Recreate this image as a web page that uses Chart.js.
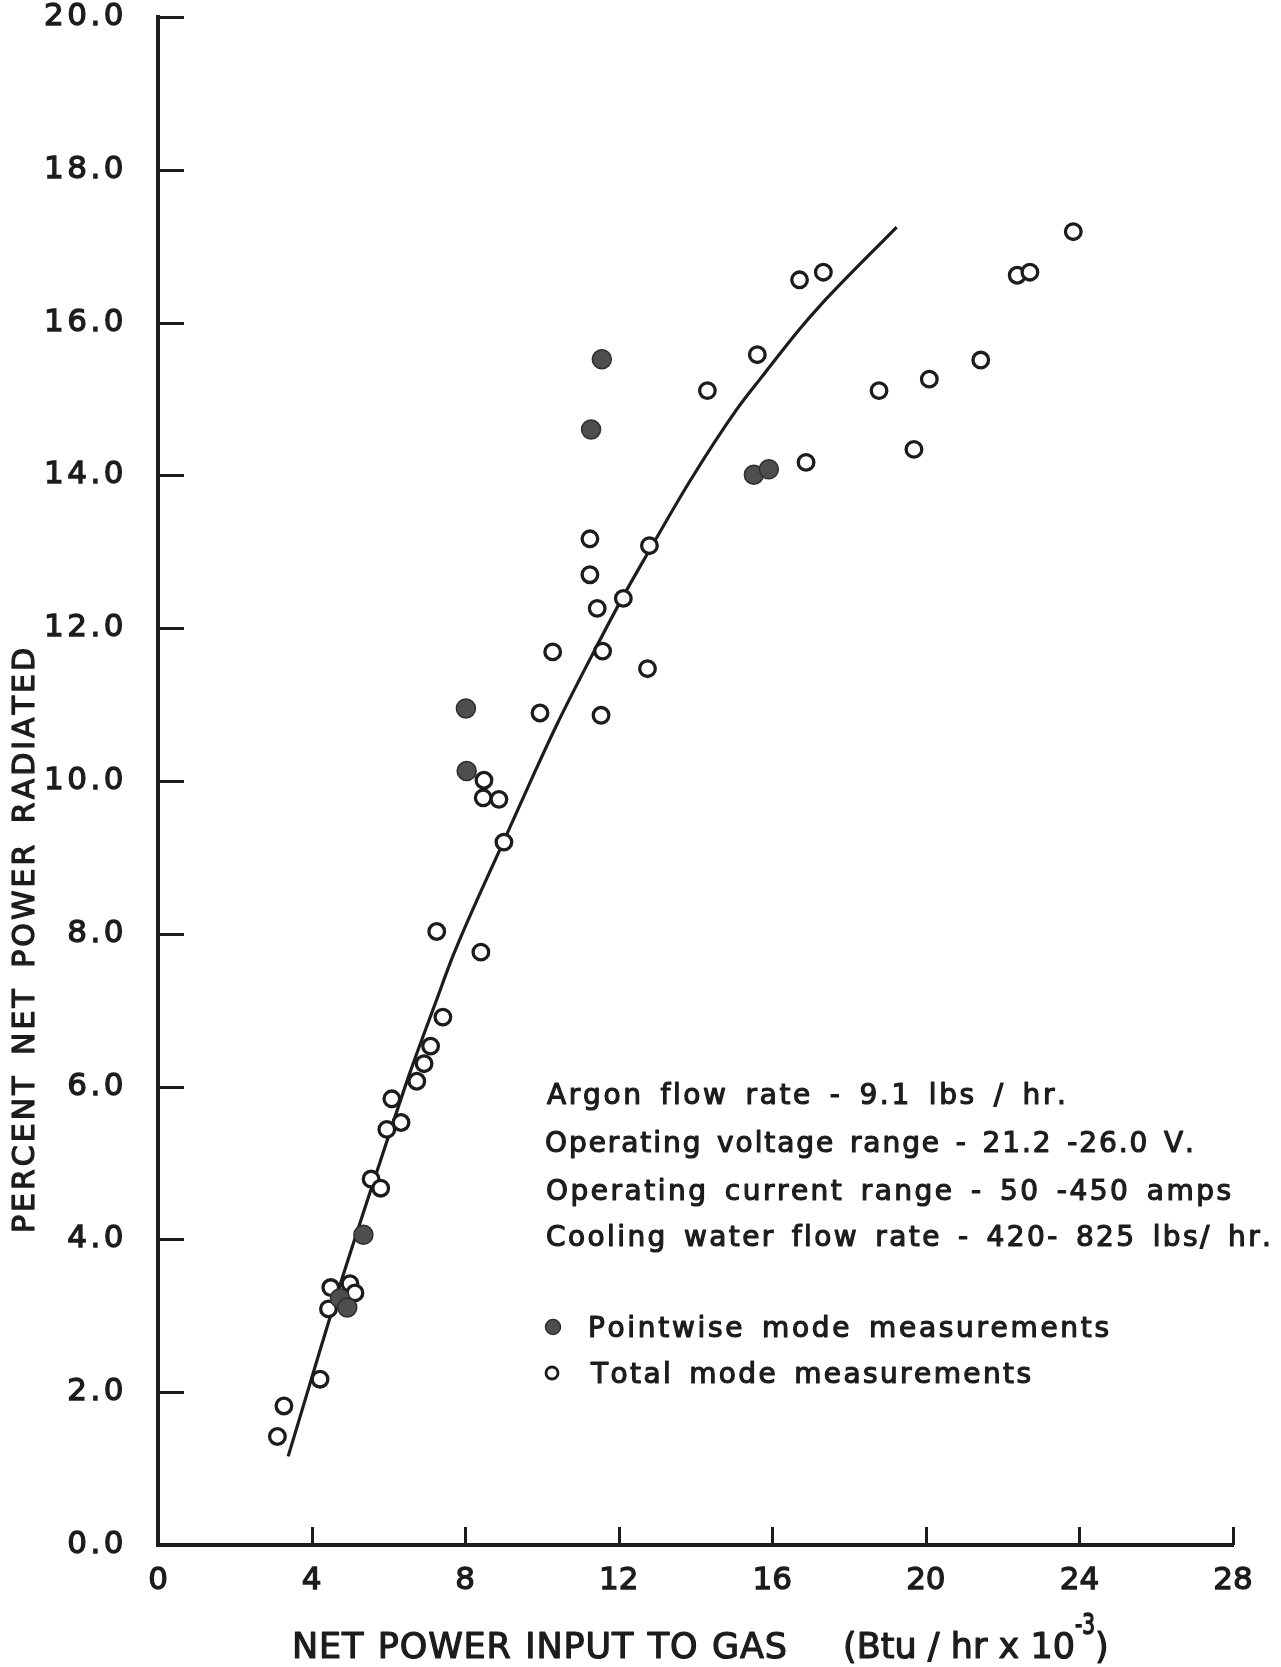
<!DOCTYPE html>
<html>
<head>
<meta charset="utf-8">
<title>Percent net power radiated vs net power input to gas</title>
<script src="https://cdn.jsdelivr.net/npm/chart.js@4.4.1/dist/chart.umd.min.js"></script>
<style>
  html, body { margin: 0; padding: 0; background: #ffffff; }
  #wrap { position: relative; width: 1281px; height: 1667px; }
  canvas { display: block; }
</style>
</head>
<body>
<div id="wrap"><canvas id="chart" width="1281" height="1667"></canvas></div>
<script>
// Axis tick values (x in Btu/hr x 10^-3, y in percent)
const xTickValues = [0, 4, 8, 12, 16, 20, 24, 28];
const yTickValues = [0, 2, 4, 6, 8, 10, 12, 14, 16, 18, 20];

// Pointwise mode measurements (filled symbols)
const pointwiseX = [4.74, 4.93, 5.35, 8.02, 8.04, 11.28, 11.56, 15.52, 15.91];
const pointwiseY = [3.23, 3.11, 4.06, 10.95, 10.13, 14.60, 15.52, 14.01, 14.08];

// Total mode measurements (open symbols)
const totalX = [3.11, 3.28, 4.22, 4.44, 4.50, 5.00, 5.13, 5.55, 5.80, 5.96,
                6.09, 6.33, 6.74, 6.93, 7.10, 7.42, 7.26, 8.41, 8.49, 8.47,
                8.88, 9.01, 9.95, 10.28, 11.54, 11.58, 12.75, 11.44, 12.12, 11.25,
                11.25, 12.80, 14.31, 15.61, 16.71, 17.33, 16.88, 18.78, 19.69, 20.09,
                21.43, 22.38, 22.71, 23.84];
const totalY = [1.42, 1.82, 2.17, 3.09, 3.37, 3.42, 3.30, 4.79, 4.67, 5.44,
                5.84, 5.53, 6.07, 6.30, 6.53, 6.91, 8.03, 7.76, 10.01, 9.78,
                9.76, 9.20, 10.89, 11.69, 10.86, 11.70, 11.47, 12.26, 12.39, 12.70,
                13.17, 13.08, 15.11, 15.58, 16.56, 16.66, 14.17, 15.11, 14.34, 15.26,
                15.51, 16.62, 16.66, 17.19];

// Faired curve through the data
const fitX = [3.39, 4.74, 5.96, 6.56, 7.26, 7.69, 9.01, 9.78, 10.39, 11.34,
              12.12, 12.80, 13.86, 15.07, 15.68, 16.72, 17.24, 19.24];
const fitY = [1.16, 3.40, 5.28, 6.18, 7.14, 7.72, 9.22, 10.08, 10.74, 11.68,
              12.42, 13.02, 13.93, 14.86, 15.26, 15.92, 16.22, 17.25];

// Text
const seriesLabels = ['Pointwise mode measurements', 'Total mode measurements'];
const noteLines = [
  'Argon flow rate - 9.1 lbs / hr.',
  'Operating voltage range - 21.2 -26.0 V.',
  'Operating current range - 50 -450 amps',
  'Cooling water flow rate - 420- 825 lbs/ hr.'
];
const yTitle = 'PERCENT NET POWER RADIATED';
const xTitleMain = 'NET POWER INPUT TO GAS';
const xTitleUnit = '(Btu / hr x 10';
const xTitleExp = '-3';
const xTitleClose = ')';

const INK = '#1c1c1c';
const FONT = 'DejaVu Sans';
const PLOT_TOP = 17;

const toPoints = (xs, ys) => xs.map((x, i) => ({ x: x, y: ys[i] }));

// Draw a string so that it spans a given width, spreading extra room
// over the gaps between characters (word gaps weighted more heavily).
function drawSpaced(ctx, text, x, y, width, spaceWeight, stroke) {
  const chars = Array.from(text);
  const ws = chars.map(c => ctx.measureText(c).width);
  const natural = ws.reduce((s, w) => s + w, 0);
  const weights = chars.slice(0, -1).map(c => (c === ' ' ? spaceWeight : 1));
  const wsum = weights.reduce((s, w) => s + w, 0) || 1;
  let extra = (width - natural) / wsum;
  let sx = 1;
  if (extra < 0) { sx = width / natural; extra = 0; }
  ctx.save();
  ctx.translate(x, y);
  ctx.scale(sx, 1);
  ctx.textAlign = 'left';
  let cx = 0;
  chars.forEach((c, i) => {
    if (stroke) ctx.strokeText(c, cx, 0);
    ctx.fillText(c, cx, 0);
    cx += ws[i] + (i < weights.length ? weights[i] * extra : 0);
  });
  ctx.restore();
}

const figureInk = {
  id: 'figureInk',
  beforeDraw(chart) {
    // wider letter spacing for the vertical axis numbers
    const ys = chart.scales.y;
    if (ys && !ys._spacedLabels) {
      const orig = ys.drawLabels.bind(ys);
      ys.drawLabels = function (area) {
        const c = this.ctx;
        c.save();
        if ('letterSpacing' in c) c.letterSpacing = '3.5px';
        orig(area);
        c.restore();
      };
      ys._spacedLabels = true;
    }
  },
  afterDraw(chart) {
    const ctx = chart.ctx;
    const xs = chart.scales.x;
    const ys = chart.scales.y;
    const a = chart.chartArea;
    ctx.save();
    if ('letterSpacing' in ctx) ctx.letterSpacing = '0px';

    // tick marks pointing into the plot
    ctx.strokeStyle = INK;
    ctx.lineWidth = 3;
    ctx.lineCap = 'butt';
    yTickValues.forEach(v => {
      if (v === 0) return;
      const py = Math.round(ys.getPixelForValue(v)) + 0.5;
      ctx.beginPath();
      ctx.moveTo(a.left, py);
      ctx.lineTo(a.left + 26, py);
      ctx.stroke();
    });
    xTickValues.forEach(v => {
      if (v === 0) return;
      const px = Math.round(xs.getPixelForValue(v)) + 0.5;
      ctx.beginPath();
      ctx.moveTo(px, a.bottom);
      ctx.lineTo(px, a.bottom - 18);
      ctx.stroke();
    });

    ctx.fillStyle = INK;
    ctx.strokeStyle = INK;
    ctx.lineWidth = 1.2;
    ctx.lineJoin = 'round';
    ctx.textBaseline = 'alphabetic';

    // y axis title (rotated)
    ctx.save();
    ctx.font = `30px "${FONT}"`;
    ctx.translate(23, 1233);
    ctx.rotate(-Math.PI / 2);
    drawSpaced(ctx, yTitle, 0, 11, 585, 3, true);
    ctx.restore();

    // x axis title with superscript exponent
    ctx.font = `35px "${FONT}"`;
    drawSpaced(ctx, xTitleMain, 292, 1658, 495, 3, true);
    drawSpaced(ctx, xTitleUnit, 843, 1658, 232, 2, true);
    ctx.save();
    ctx.lineWidth = 1.6;
    ctx.font = `28px "${FONT}"`;
    drawSpaced(ctx, xTitleExp, 1075, 1634, 20, 1, true);
    ctx.restore();
    ctx.font = `35px "${FONT}"`;
    ctx.fillText(xTitleClose, 1095, 1658);
    ctx.strokeText(xTitleClose, 1095, 1658);

    // operating conditions
    ctx.font = `28px "${FONT}"`;
    const noteX = [547, 545, 546, 546];
    const noteW = [519, 649, 685, 725];
    const noteBase = [1104, 1152, 1200, 1246];
    noteLines.forEach((t, i) => drawSpaced(ctx, t, noteX[i], noteBase[i], noteW[i], 3, true));

    // symbol key, styled from the datasets
    const keyDs = [chart.data.datasets[1], chart.data.datasets[2]];
    const keyMarkY = [1327, 1373];
    const keyMarkX = [553, 552];
    const keyTextX = [588, 591];
    const keyTextW = [521, 440];
    const keyBase = [1337, 1383];
    keyDs.forEach((ds, i) => {
      ctx.save();
      ctx.beginPath();
      const r = i === 0 ? 7.5 : 6;
      ctx.arc(keyMarkX[i], keyMarkY[i], r, 0, Math.PI * 2);
      ctx.fillStyle = ds.pointBackgroundColor;
      ctx.fill();
      ctx.lineWidth = i === 0 ? 1.5 : 2.8;
      ctx.strokeStyle = ds.pointBorderColor;
      ctx.stroke();
      ctx.restore();
      ctx.font = `28px "${FONT}"`;
      drawSpaced(ctx, seriesLabels[i], keyTextX[i], keyBase[i], keyTextW[i], 3, true);
    });

    ctx.restore();
  }
};

const chart = new Chart(document.getElementById('chart'), {
  type: 'scatter',
  data: {
    datasets: [
      {
        label: 'Faired curve',
        data: toPoints(fitX, fitY),
        showLine: true,
        cubicInterpolationMode: 'monotone',
        borderColor: INK,
        borderWidth: 3.2,
        pointRadius: 0,
        fill: false,
        order: 3
      },
      {
        label: seriesLabels[0],
        data: toPoints(pointwiseX, pointwiseY),
        pointRadius: 9.5,
        pointBackgroundColor: '#4e4e4e',
        pointBorderColor: '#2e2e2e',
        pointBorderWidth: 1.5,
        showLine: false,
        order: 1
      },
      {
        label: seriesLabels[1],
        data: toPoints(totalX, totalY),
        pointRadius: 7.8,
        pointBackgroundColor: '#ffffff',
        pointBorderColor: INK,
        pointBorderWidth: 3.3,
        showLine: false,
        order: 2
      }
    ]
  },
  options: {
    responsive: false,
    devicePixelRatio: 1,
    animation: false,
    layout: { autoPadding: false, padding: { top: PLOT_TOP, right: 48, bottom: 0, left: 0 } },
    plugins: {
      legend: { display: false },
      tooltip: { enabled: false }
    },
    scales: {
      x: {
        type: 'linear',
        min: 0,
        max: 28,
        grid: { display: false, drawTicks: false },
        border: { display: true, color: INK, width: 4 },
        afterBuildTicks: s => { s.ticks = xTickValues.map(v => ({ value: v })); },
        afterFit: s => { s.height = 122; s.paddingLeft = 0; s.paddingRight = 0; },
        ticks: {
          autoSkip: false,
          padding: 20,
          color: INK,
          font: { family: FONT, size: 31, lineHeight: 1 },
          textStrokeColor: INK,
          textStrokeWidth: 1.3,
          callback: v => String(v)
        },
        title: { display: false }
      },
      y: {
        type: 'linear',
        min: 0,
        max: 20,
        grid: { display: false, drawTicks: false },
        border: { display: true, color: INK, width: 4 },
        afterBuildTicks: s => { s.ticks = yTickValues.map(v => ({ value: v })); },
        afterFit: s => { s.width = 158; s.paddingTop = 0; s.paddingBottom = 0; },
        ticks: {
          autoSkip: false,
          padding: 31,
          color: INK,
          font: { family: FONT, size: 31, lineHeight: 1 },
          textStrokeColor: INK,
          textStrokeWidth: 1.3,
          callback: v => Number(v).toFixed(1)
        },
        title: { display: false }
      }
    }
  },
  plugins: [figureInk]
});

// keep the plotting frame's top edge at its intended position
const drift = chart.chartArea.top - PLOT_TOP;
if (Math.abs(drift) > 0.5) {
  chart.options.layout.padding.top = Math.max(0, PLOT_TOP - drift);
  chart.update();
}
</script>
</body>
</html>
